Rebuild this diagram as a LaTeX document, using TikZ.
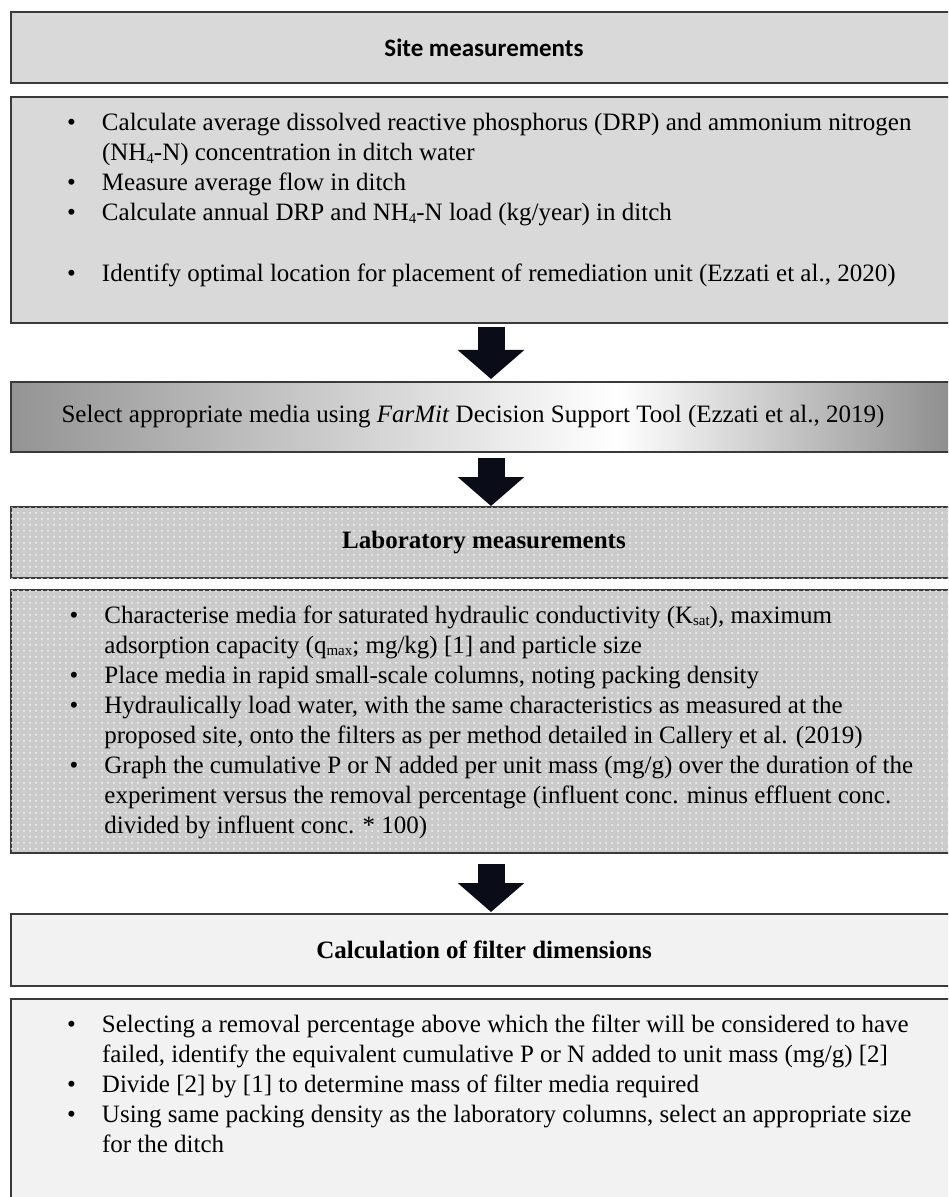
\documentclass[tikz,border=0pt]{standalone}
\usepackage{fontspec}
\setmainfont{Liberation Serif}
\setsansfont{Carlito}
\usetikzlibrary{positioning}
\usetikzlibrary{arrows.meta,patterns,shadings}

\definecolor{sitegray}{HTML}{D9D9D9}
\definecolor{labgray}{HTML}{CBCBCB}
\definecolor{calcgray}{HTML}{F2F2F2}
\definecolor{edgegray}{HTML}{3A3A3A}
\definecolor{arrowcol}{HTML}{0A0D18}

\pgfdeclarehorizontalshading{selectshade}{100bp}{color(0bp)=(black!42); color(25bp)=(black!42); color(57bp)=(white); color(75bp)=(black!45); color(100bp)=(black!45)}

\tikzset{
  panel/.style={draw=edgegray, line width=1pt, minimum width=473pt, inner sep=0pt},
  dotpanel/.style={panel, fill=labgray, postaction={pattern=dots, pattern color=white!80!labgray}},
  item/.style={anchor=base west, align=left, inner sep=0pt, font=\fontsize{12.5}{15}\selectfont},
  heading/.style={font=\fontsize{12.5}{15}\selectfont\bfseries},
  flowarrow/.style={draw=arrowcol, line width=13.5pt, -{Triangle[width=32.5pt,length=14.5pt]}}
}
\newcommand{\itembullet}{\llap{\textbullet\hspace{13pt}}}
\newcommand{\sub}[1]{\raisebox{-0.25ex}{\fontsize{7.5}{8}\selectfont #1}}

\begin{document}
\begin{tikzpicture}[x=0.5pt,y=-0.5pt]
\useasboundingbox (0,0) rectangle (948,1197);
\clip (0,0) rectangle (948,1197);

% site
\node[panel, fill=sitegray, minimum height=35.5pt, font=\fontsize{12.5}{15}\selectfont\sffamily\bfseries] (sitehead) at (484,47.5) {Site measurements};
\node[panel, fill=sitegray, minimum height=113pt] (sitebody) at (484,210) {};
% multi-line items sit on their last line
\node[item] (s1) at (101.6,161) {\itembullet Calculate average dissolved reactive phosphorus (DRP) and ammonium nitrogen\\(NH\sub{4}-N) concentration in ditch water};
\node[item] (s2) at (101.6,191) {\itembullet Measure average flow in ditch};
\node[item] (s3) at (101.6,221) {\itembullet Calculate annual DRP and NH\sub{4}-N load (kg/year) in ditch};
\node[item] (s4) at (101.6,282) {\itembullet Identify optimal location for placement of remediation unit (Ezzati et al., 2020)};

% media selection
\node[panel, shading=selectshade, minimum height=35pt] (select) at (484,417) {};
\node[item, anchor=center] (seltext) at (473,417) {Select appropriate media using \textit{FarMit} Decision Support Tool (Ezzati et al., 2019)};

% laboratory
\node[dotpanel, minimum height=35.5pt, heading] (labhead) at (484,542.5) {Laboratory measurements};
\node[dotpanel, minimum height=131.5pt] (labbody) at (484,721.5) {};
\node[item] (l1) at (104,653) {\itembullet Characterise media for saturated hydraulic conductivity (K\sub{sat}), maximum\\adsorption capacity (q\sub{max}; mg/kg) [1] and particle size};
\node[item] (l2) at (104,683) {\itembullet Place media in rapid small-scale columns, noting packing density};
\node[item] (l3) at (104,743) {\itembullet Hydraulically load water, with the same characteristics as measured at the\\proposed site, onto the filters as per method detailed in Callery et al. (2019)};
\node[item] (l4) at (104,833) {\itembullet Graph the cumulative P or N added per unit mass (mg/g) over the duration of the\\experiment versus the removal percentage (influent conc. minus effluent conc.\\divided by influent conc. * 100)};

% filter dimensions
\node[panel, fill=calcgray, minimum height=36pt, heading] (calchead) at (484,950) {Calculation of filter dimensions};
\node[panel, fill=calcgray, minimum height=120pt] (calcbody) at (484,1119) {};
\node[item] (c1) at (101.6,1062) {\itembullet Selecting a removal percentage above which the filter will be considered to have\\failed, identify the equivalent cumulative P or N added to unit mass (mg/g) [2]};
\node[item] (c2) at (101.6,1092) {\itembullet Divide [2] by [1] to determine mass of filter media required};
\node[item] (c3) at (101.6,1152) {\itembullet Using same packing density as the laboratory columns, select an appropriate size\\for the ditch};

% arrows
\draw[flowarrow, shorten <=1.5pt, shorten >=1pt] ([xshift=3.5pt]sitebody.south) -- ([xshift=3.5pt]select.north);
\draw[flowarrow, shorten <=2.5pt] ([xshift=3.5pt]select.south) -- ([xshift=3.5pt]labhead.north);
\draw[flowarrow, shorten <=5pt, shorten >=0.5pt] ([xshift=3.5pt]labbody.south) -- ([xshift=3.5pt]calchead.north);
\end{tikzpicture}
\end{document}
